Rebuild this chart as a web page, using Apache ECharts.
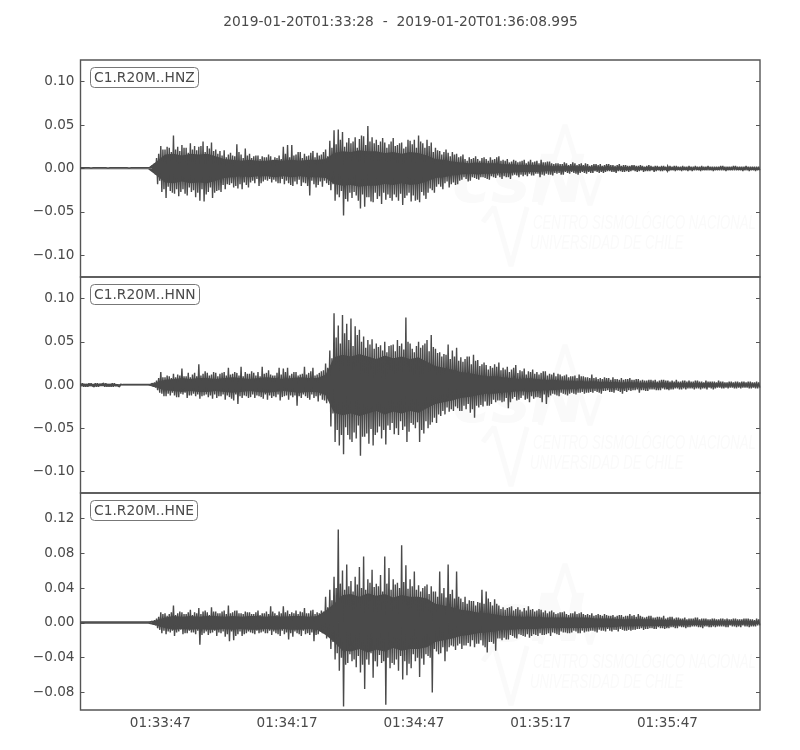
<!DOCTYPE html>
<html>
<head>
<meta charset="utf-8">
<title>C1.R20M</title>
<script src="https://cdn.jsdelivr.net/npm/echarts@6/dist/echarts.min.js"></script>
<style>
html,body{margin:0;padding:0;background:#fff}
#main{width:800px;height:750px}
</style>
</head>
<body>
<div id="main"></div>
<script>
var titleText = '2019-01-20T01:33:28  -  2019-01-20T01:36:08.995';
var channels = ['C1.R20M..HNZ', 'C1.R20M..HNN', 'C1.R20M..HNE'];
// seconds after 01:33:28
var xTicks = [19, 49, 79, 109, 139];
var xLabels = ['01:33:47', '01:34:17', '01:34:47', '01:35:17', '01:35:47'];
var yTicksZ = [-0.10, -0.05, 0, 0.05, 0.10];
var yTicksN = [-0.10, -0.05, 0, 0.05, 0.10];
var yTicksE = [-0.08, -0.04, 0, 0.04, 0.08, 0.12];

// swings, in thousandths, high then low.
// the A arrays hold the tallest swing of each second, the B arrays the next one
var traceZA = [
 1,-1,1,-1,1,-1,1,-1,1,-1,1,-1,1,-1,1,-1,1,-1,1,-1,
 1,-1,1,-1,1,-1,1,-1,1,-1,1,-1,1,-1,3,-4,12,-18,26,-27,
 22,-34,24,-26,38,-29,25,-32,27,-24,24,-31,29,-27,26,-33,25,-37,31,-38,
 26,-27,30,-34,22,-26,20,-27,21,-24,16,-19,15,-22,28,-23,16,-24,23,-19,
 17,-16,14,-17,15,-20,14,-15,13,-14,14,-16,13,-15,15,-17,25,-18,27,-17,
 27,-20,16,-18,19,-20,17,-17,15,-31,20,-18,18,-19,16,-21,22,-17,32,-25,
 44,-37,45,-33,42,-54,30,-38,29,-34,36,-31,34,-46,37,-44,49,-33,36,-39,
 33,-35,31,-41,30,-36,28,-34,35,-30,27,-37,30,-42,25,-31,32,-38,33,-37,
 38,-39,29,-31,33,-28,30,-25,24,-21,20,-21,19,-17,18,-22,19,-16,17,-18,
 14,-13,11,-12,13,-14,12,-11,11,-13,12,-10,11,-12,13,-9,11,-11,14,-10,
 10,-9,11,-10,8,-8,9,-8,8,-7,10,-7,8,-6,7,-8,9,-6,10,-7,
 7,-6,8,-7,5,-5,6,-5,5,-7,6,-5,5,-4,6,-6,5,-5,4,-5,
 5,-4,4,-5,5,-4,5,-4,4,-4,5,-3,4,-4,4,-3,3,-4,4,-3,
 3,-3,4,-3,3,-3,3,-4,3,-3,3,-2,3,-3,2,-3,3,-2,3,-3,
 2,-2,3,-2,2,-3,2,-2,3,-2,2,-2,2,-2,3,-2,2,-2,2,-2,
 2,-2,2,-2,3,-2,2,-2,2,-2,3,-2,2,-2,2,-2,2,-3,2,-2,2,-2
];
var traceZB = [
 1,-1,1,-0.5,0.5,-1,1,-1,1,-0.5,1,-1,0.5,-1,1,-1,1,-1,1,-1,
 1,-1,0.5,-1,1,-1,1,-0.5,1,-1,1,-1,1,-1,6,-7,17,-14,22,-24,
 25,-21,19,-28,22,-24,20,-27,24,-29,18,-22,22,-25,21,-28,26,-24,19,-30,
 23,-22,20,-28,17,-25,15,-19,13,-18,18,-17,14,-20,19,-18,12,-16,15,-22,
 12,-14,15,-12,11,-17,13,-13,16,-12,10,-13,12,-17,11,-12,17,-14,13,-19,
 15,-15,19,-13,12,-16,14,-20,18,-14,13,-22,15,-15,19,-14,14,-19,24,-18,
 28,-30,33,-26,25,-35,35,-28,31,-27,24,-37,38,-30,27,-33,31,-38,29,-28,
 27,-32,35,-28,24,-30,31,-37,26,-33,29,-29,23,-34,33,-28,28,-31,24,-36,
 31,-27,24,-35,26,-23,19,-28,21,-18,16,-24,22,-15,14,-18,16,-19,13,-14,
 16,-10,9,-15,11,-10,14,-12,9,-10,13,-11,9,-13,10,-10,13,-8,9,-12,
 9,-10,7,-12,10,-7,7,-10,9,-9,6,-9,10,-8,8,-6,6,-10,7,-8,
 8,-7,6,-8,6,-6,5,-7,7,-4,4,-6,7,-5,4,-7,6,-4,6,-6,
 3,-5,5,-3,4,-5,3,-5,5,-3,4,-4,3,-5,5,-3,4,-4,3,-4,
 4,-2,3,-4,4,-2,2,-3,4,-3,2,-4,3,-2,3,-3,2,-3,3,-2,
 3,-3,2,-2,3,-2,2,-3,2,-3,3,-2,2,-3,2,-2,3,-2,2,-3,
 2,-2,3,-2,2,-3,2,-2,3,-2,2,-2,2,-3,3,-2,2,-2,2,-3,2,-2
];
var traceNA = [
 2,-1,1,-2,2,-1,1,-2,2,-2,1,-1,2,-2,1,-2,2,-1,1,-2,
 0.5,-0.5,0.5,-0.5,0.5,-0.5,0.5,-0.5,0.5,-0.5,0.5,-0.5,0.5,-0.5,2,-2,5,-6,15,-10,
 9,-13,10,-12,13,-12,12,-14,19,-11,10,-15,9,-12,14,-13,24,-16,13,-12,
 14,-14,12,-16,14,-15,13,-13,15,-17,20,-14,13,-18,14,-22,21,-15,15,-13,
 13,-14,14,-15,15,-13,21,-16,14,-17,12,-15,11,-14,20,-18,19,-13,20,-17,
 13,-14,15,-24,12,-15,21,-13,14,-17,20,-15,12,-19,16,-17,25,-21,40,-48,
 83,-66,69,-70,81,-80,71,-58,77,-66,68,-62,64,-82,56,-60,52,-68,53,-70,
 48,-55,46,-62,50,-69,45,-52,47,-57,52,-58,48,-52,78,-66,48,-44,38,-50,
 50,-66,46,-56,52,-50,58,-43,42,-44,38,-36,36,-34,47,-31,40,-30,43,-27,
 32,-30,30,-28,33,-32,35,-38,29,-26,24,-25,23,-24,22,-22,24,-20,26,-18,
 20,-19,21,-27,18,-16,23,-18,17,-15,19,-17,16,-20,18,-16,15,-14,14,-20,
 16,-22,13,-12,14,-11,13,-13,10,-10,12,-12,10,-9,11,-11,12,-9,10,-10,
 9,-9,12,-9,9,-8,8,-10,9,-7,8,-8,9,-9,7,-7,8,-10,7,-8,
 8,-7,6,-6,7,-9,6,-6,5,-7,6,-5,6,-6,5,-6,6,-5,5,-6,
 5,-5,6,-4,4,-5,5,-5,5,-4,4,-5,5,-4,4,-4,5,-5,4,-4,
 4,-4,5,-3,4,-4,3,-4,4,-3,4,-4,3,-4,4,-3,4,-4,3,-3,4,-4
];
var traceNB = [
 2,-2,1,-2,2,-1,2,-2,1,-1,2,-2,1,-2,2,-2,1,-1,1,-1,
 0.5,-0.5,0.5,-0.5,0.5,-0.5,0.5,-0.5,0.5,-0.5,0.5,-0.5,0.5,-0.5,3,-3,8,-9,9,-13,
 11,-10,8,-9,9,-14,11,-10,10,-9,14,-12,12,-10,10,-11,11,-13,16,-11,
 11,-12,15,-11,10,-13,14,-11,11,-12,12,-16,15,-11,11,-13,10,-12,13,-15,
 16,-11,11,-12,10,-14,13,-11,17,-12,11,-13,14,-11,12,-14,15,-12,11,-12,
 15,-12,11,-13,13,-11,12,-15,16,-11,11,-13,14,-12,17,-18,20,-15,31,-33,
 55,-52,48,-58,60,-49,52,-63,45,-55,58,-47,50,-60,43,-56,47,-51,42,-58,
 44,-48,40,-52,38,-47,46,-44,39,-50,45,-42,41,-48,50,-54,42,-46,45,-43,
 43,-52,48,-42,39,-46,44,-38,37,-34,33,-30,35,-26,30,-28,33,-25,28,-30,
 27,-24,33,-22,24,-28,28,-24,22,-23,26,-19,18,-24,20,-17,21,-18,17,-20,
 18,-15,15,-20,20,-14,14,-17,16,-12,12,-16,15,-13,13,-14,12,-15,16,-11,
 11,-14,12,-10,10,-12,12,-9,11,-11,9,-10,10,-10,8,-9,10,-8,9,-9,
 8,-8,8,-7,7,-9,7,-7,8,-6,6,-8,7,-6,6,-8,6,-7,7,-6,
 6,-6,7,-5,5,-6,5,-7,6,-5,5,-5,4,-6,6,-4,5,-5,4,-5,
 4,-4,4,-5,5,-4,4,-4,4,-4,5,-4,4,-5,3,-4,4,-3,4,-5,
 3,-3,4,-4,3,-3,4,-3,3,-4,4,-3,4,-3,3,-3,4,-4,3,-4,3,-3
];
var traceEA = [
 1,-1,1,-1,1,-1,1,-1,1,-1,1,-1,1,-1,1,-1,1,-1,1,-1,
 1,-1,1,-1,1,-1,1,-1,1,-1,1,-1,1,-1,2,-2,5,-6,12,-12,
 11,-13,10,-11,20,-15,11,-10,12,-13,10,-12,15,-11,12,-13,17,-25,13,-12,
 12,-14,18,-11,13,-15,11,-12,14,-16,20,-21,12,-20,14,-13,11,-15,13,-12,
 12,-11,10,-13,14,-12,11,-10,13,-12,19,-14,11,-12,13,-15,19,-13,14,-19,
 12,-16,14,-12,13,-15,17,-13,11,-14,15,-21,12,-13,14,-12,30,-18,38,-30,
 53,-42,107,-55,60,-96,67,-46,48,-44,53,-51,64,-57,76,-76,50,-48,61,-63,
 45,-50,55,-46,76,-94,63,-52,50,-48,46,-55,89,-65,66,-60,50,-52,59,-44,
 43,-62,40,-48,44,-38,42,-80,36,-33,59,-35,40,-44,67,-28,38,-27,59,-26,
 28,-30,30,-26,26,-27,25,-28,24,-24,38,-26,36,-34,24,-22,27,-32,20,-18,
 18,-17,17,-19,19,-15,16,-18,15,-14,17,-16,19,-17,16,-13,14,-15,15,-14,
 14,-13,13,-15,12,-12,11,-14,12,-11,10,-12,11,-11,13,-10,11,-12,10,-11,
 10,-10,11,-9,9,-11,9,-9,10,-10,8,-9,9,-8,8,-10,9,-8,8,-9,
 10,-9,9,-8,10,-7,7,-8,7,-7,8,-6,6,-7,7,-6,8,-7,6,-6,
 7,-5,6,-6,5,-5,6,-6,5,-5,5,-4,6,-5,5,-6,5,-4,4,-5,
 5,-5,4,-4,5,-4,5,-5,4,-4,5,-5,4,-5,5,-4,5,-5,4,-4,5,-3
];
var traceEB = [
 1,-1,1,-1,1,-1,1,-1,1,-1,1,-1,1,-1,1,-1,1,-1,1,-1,
 1,-1,1,-1,1,-1,1,-1,1,-1,1,-1,1,-1,3,-3,7,-8,10,-9,
 8,-10,12,-9,9,-11,13,-8,10,-12,12,-9,9,-11,11,-9,10,-14,14,-10,
 9,-12,13,-9,11,-11,13,-10,10,-13,11,-10,14,-15,11,-10,10,-13,12,-10,
 10,-12,12,-9,9,-11,11,-12,10,-9,13,-10,9,-13,11,-9,12,-11,10,-12,
 11,-10,10,-13,12,-9,11,-12,14,-11,10,-14,11,-10,13,-12,18,-14,26,-22,
 40,-35,45,-40,38,-48,42,-36,36,-42,44,-38,40,-48,38,-42,46,-35,41,-44,
 42,-37,36,-44,45,-40,38,-46,44,-42,40,-38,47,-44,39,-47,42,-36,38,-40,
 36,-41,42,-36,33,-40,36,-30,30,-36,34,-28,29,-33,33,-26,28,-31,30,-24,
 24,-26,22,-23,25,-20,20,-24,23,-20,22,-28,28,-22,20,-24,22,-18,16,-20,
 15,-19,18,-14,14,-17,18,-13,13,-15,14,-13,15,-15,13,-14,16,-12,12,-14,
 11,-12,14,-11,10,-13,12,-10,13,-11,9,-12,11,-9,10,-12,12,-9,9,-10,
 9,-9,8,-10,10,-8,8,-9,9,-7,8,-10,7,-8,9,-7,7,-9,8,-8,
 8,-8,7,-7,8,-6,6,-7,8,-6,6,-7,7,-5,6,-6,5,-6,7,-5,
 5,-6,6,-4,5,-5,4,-5,5,-4,6,-4,4,-5,5,-4,4,-5,5,-4,
 4,-4,5,-4,4,-5,4,-3,5,-4,4,-4,4,-3,5,-4,4,-4,3,-4,4,-3
];
// half width of the solid core of each trace, one value every 2 s
var coreZ = [1,1,1,1,1,1,1,1,1,8,16,17,15,17,16,17,14,11,10,9,10,9,9,10,9,10,9,10,10,11,18,20,19,21,20,20,18,19,17,19,18,15,11,10,8,7,6,7,6,6,5,5,4,4,4,3,2.5,2.5,2.5,2.5,2,2,2,1.5,1.5,1.5,1.5,1.5,1.5,1.5,1,1,1,1,1,1,1,1,1,1,1];
var coreN = [1.5,1.5,1.5,1.5,1.5,0.6,0.6,0.6,0.6,3,6,7,8,7,8,8,7,8,9,8,7,8,9,8,7,8,9,8,8,12,32,35,33,36,33,30,34,31,33,30,32,27,22,20,18,15,14,12,10,10,9,8,7,8,7,6,6,5,5,4,4,4,3.5,3.5,3,3,2.5,2.5,2.5,2.5,2.5,2,2,2,2,2,1.5,1.5,1.5,1.5,1.5];
var coreE = [1,1,1,1,1,1,1,1,1,3,6,8,7,8,7,8,8,7,8,7,8,8,7,8,7,8,8,7,8,14,22,32,33,30,34,31,33,29,32,30,30,28,22,20,18,15,14,12,11,10,8,8,7,7,7,6,6,6,6,6,6,5,5,5,4,4,4,4,3.5,3.5,3,3,2.5,2.5,2.5,2.5,2,2,2,2,2];

var tracesA = [traceZA, traceNA, traceEA];
var tracesB = [traceZB, traceNB, traceEB];
var cores = [coreZ, coreN, coreE];
var yTicks = [yTicksZ, yTicksN, yTicksE];
var yMin = [-0.125, -0.125, -0.1];
var yMax = [0.125, 0.125, 0.149];
var xMin = 0.1, xMax = 160.9;
var tops = [60, 277, 493], heights = [217, 216, 217];

var ink = '#4a4a4a', frame = '#555', font = 'DejaVu Sans';

function yLabel(v){
	var s = Math.abs(v).toFixed(2);
	return v < 0 ? '\u2212' + s : s;
}
function xLabel(v){
	return xLabels[xTicks.indexOf(v)];
}
// one second holds: A high, A low, B high, B low
function wave(a, b){
	var out = [];
	for(var i = 0; i < a.length; i += 2){
		var t = xMin + i / 2;
		out.push([t, a[i] / 1000], [t + 0.25, a[i + 1] / 1000], [t + 0.5, b[i] / 1000], [t + 0.75, b[i + 1] / 1000]);
	}
	return out;
}
function core(vals, sign){
	return vals.map(function(v, i){ return [xMin + i * 2, sign * v / 1000]; });
}

var option = {
	animation: false,
	backgroundColor: '#fff',
	textStyle: {fontFamily: font},
	title: [{
		text: titleText, left: 395.5, top: 10, textAlign: 'center',
		textStyle: {fontSize: 13.8, fontWeight: 'normal', color: ink, fontFamily: font}
	}],
	grid: [], xAxis: [], yAxis: [], series: [], graphic: []
};

// faint logo behind each panel
[0, 220, 439].forEach(function(dy){
	var c = '#fafafa';
	var line = {stroke: c, lineWidth: 5, fill: null, lineJoin: 'bevel'};
	option.graphic.push({
		type: 'group', silent: true, x: 0, y: dy,
		children: [
			{type: 'text', z: -1, x: 452, y: 152, style: {text: 'csN', font: 'italic bold 66px "DejaVu Sans"', fill: c}},
			{type: 'polyline', z: -1, shape: {points: [[540, 205], [565, 125], [590, 205], [600, 175]]}, style: line},
			{type: 'polyline', z: -1, shape: {points: [[483, 222], [494, 207], [511, 266], [527, 207]]}, style: line},
			{type: 'text', z: -1, x: 533, y: 213, scaleX: 0.655, style: {text: 'CENTRO SISMOL\u00d3GICO NACIONAL', font: 'italic 20px "Liberation Sans"', fill: c}},
			{type: 'text', z: -1, x: 530, y: 233, scaleX: 0.655, style: {text: 'UNIVERSIDAD DE CHILE', font: 'italic 20px "Liberation Sans"', fill: c}}
		]
	});
});

channels.forEach(function(name, p){
	var last = p == 2;
	option.title.push({
		text: name, left: 90, top: tops[p] + 7, padding: [4, 4, 3, 4],
		borderColor: '#777', borderWidth: 1, borderRadius: 4,
		textStyle: {fontSize: 13.8, fontWeight: 'normal', color: ink, fontFamily: font, lineHeight: 14}
	});
	option.grid.push({left: 80.5, width: 679.5, top: tops[p], height: heights[p], show: true, borderColor: frame, borderWidth: 1.4, backgroundColor: 'transparent'});

	var xBase = {
		gridIndex: p, type: 'value', min: xMin, max: xMax, splitLine: {show: false},
		axisLine: {show: false},
		axisTick: {inside: true, length: 4, lineStyle: {color: frame}, customValues: xTicks}
	};
	option.xAxis.push(Object.assign({}, xBase, {
		position: 'bottom',
		axisLabel: {show: last, customValues: xTicks, formatter: xLabel, color: ink, fontSize: 13.6, margin: 6, fontFamily: font}
	}));
	option.xAxis.push(Object.assign({}, xBase, {position: 'top', axisLabel: {show: false}}));

	var yBase = {
		gridIndex: p, type: 'value', min: yMin[p], max: yMax[p], splitLine: {show: false},
		axisLine: {show: false},
		axisTick: {inside: true, length: 4, lineStyle: {color: frame}, customValues: yTicks[p]}
	};
	option.yAxis.push(Object.assign({}, yBase, {
		position: 'left',
		axisLabel: {customValues: yTicks[p], formatter: yLabel, color: ink, fontSize: 13.6, margin: 6, padding: [2, 0, 0, 0], fontFamily: font}
	}));
	option.yAxis.push(Object.assign({}, yBase, {position: 'right', axisLabel: {show: false}}));

	var ax = {xAxisIndex: p * 2, yAxisIndex: p * 2, type: 'line', showSymbol: false, silent: true};
	[1, -1].forEach(function(sign){
		option.series.push(Object.assign({}, ax, {
			data: core(cores[p], sign), lineStyle: {width: 0, color: ink}, itemStyle: {color: ink},
			areaStyle: {color: ink, opacity: 1}
		}));
	});
	option.series.push(Object.assign({}, ax, {
		data: wave(tracesA[p], tracesB[p]), lineStyle: {width: 1.4, color: ink}, itemStyle: {color: ink}
	}));
});

var myChart = echarts.init(document.getElementById('main'));
myChart.setOption(option);
</script>
</body>
</html>
